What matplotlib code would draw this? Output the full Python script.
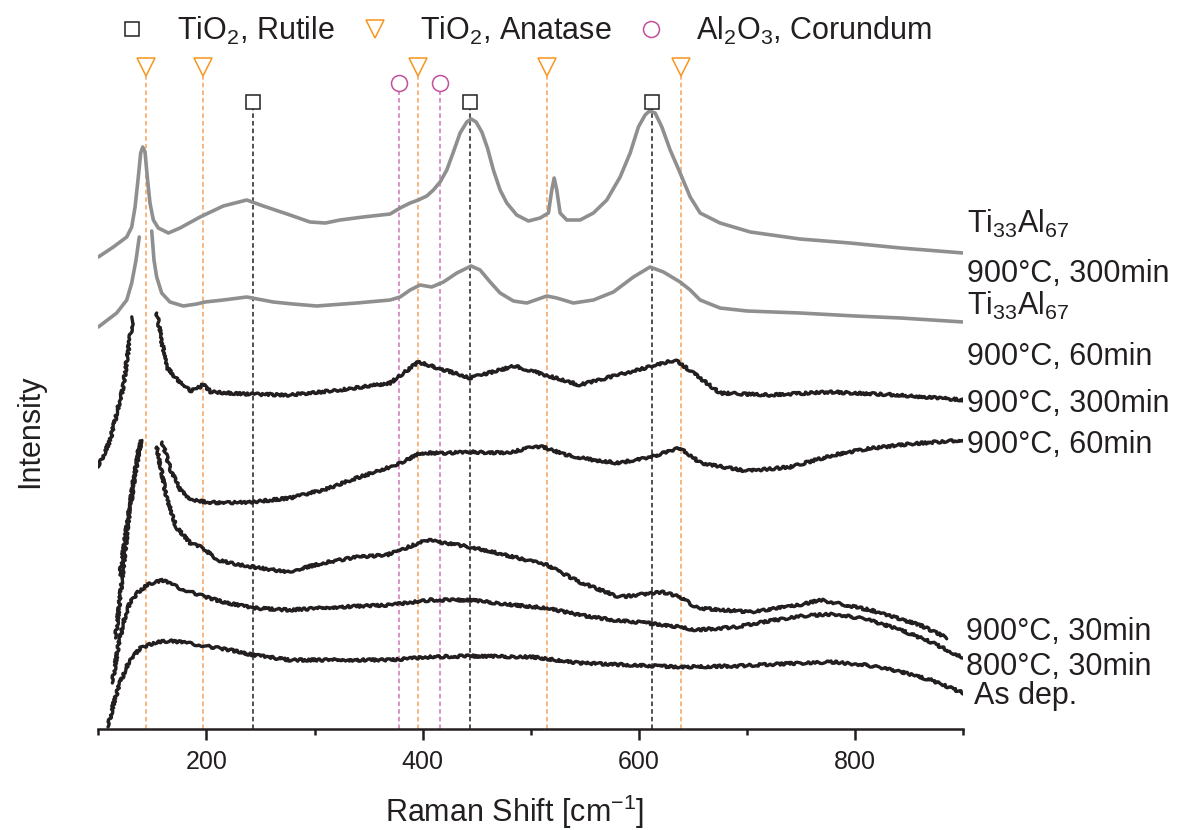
import numpy as np
import matplotlib
matplotlib.use('Agg')
import matplotlib.pyplot as plt
from matplotlib.lines import Line2D

plt.rcParams['font.family'] = ['Liberation Sans', 'DejaVu Sans']
plt.rcParams['mathtext.fontset'] = 'custom'
plt.rcParams['mathtext.rm'] = 'Liberation Sans'
plt.rcParams['mathtext.it'] = 'Liberation Sans:italic'
plt.rcParams['mathtext.bf'] = 'Liberation Sans:bold'

TXT = '#231f20'

# ---------------- data (Raman shift in cm-1, stacked intensity in a.u.) -------------
nan = np.nan
asdep_x = [109, 114, 120, 129, 139, 154, 169, 194, 222, 243, 277, 323, 370, 407, 444, 502,
           545, 592, 638, 690, 750, 780, 810, 840, 870, 900]
asdep_y = [2, 25, 46, 69, 81, 87, 88, 84, 79, 74, 69, 69, 69, 72, 73, 72,
           66, 64, 62, 63, 66, 67, 64, 58, 49, 36]

a800_30_x = [113, 118, 123, 129, 137, 145, 159, 175, 194, 215, 243, 277, 323, 370, 407, 444,
             484, 515, 545, 576, 607, 638, 653, 690, 720, 750, 780, 810, 840, 870, 900]
a800_30_y = [46, 80, 106, 126, 137, 144, 149, 141, 134, 127, 121, 119, 122, 124, 129, 129,
             124, 121, 114, 109, 106, 102, 99, 102, 108, 113, 115, 110, 100, 87, 71]

a900_30_x = [116, 122, 128, 134, 139.5, nan,
             154, 163, 172, 185, 197, 210, 222, 243, 275, 308, 339, 367, 404, 444, 469, 515,
             545, 582, 622, 638, 654, 703, 749, 768, 814, 860, 885]
a900_30_y = [91, 150, 210, 255, 288, nan,
             282, 232, 202, 186, 181, 169, 166, 162, 157, 166, 172, 174, 189, 182, 176, 164,
             147, 132, 137, 132, 121, 117, 124, 129, 119, 104, 91]

a900_60_x = [120, 126, 132, 137.5, 141.4, nan,
             159, 167, 176, 185, 200, 215, 243, 277, 308, 339, 367, 379, 398, 423, 444, 478,
             502, 511, 533, 558, 580, 608, 626, 638, 657, 700, 740, 780, 810, 850, 900]
a900_60_y = [154, 200, 245, 280, 288, nan,
             287, 259, 239, 229, 227, 226, 227, 231, 239, 251, 261, 266, 276, 276, 277, 276,
             282, 282, 274, 269, 266, 271, 277, 281, 266, 258, 262, 274, 280, 285, 289]

a900_300_x = [100, 111, 123, 132, nan,
              154, 163, 176, 185, 194, 197, 204, 236, 277, 323, 370, 396, 444, 485, 545,
              634, 675, 720, 777, 840, 900]
a900_300_y = [262, 289, 342, 412, nan,
              416, 362, 346, 338, 342, 345, 337, 335, 334, 339, 346, 367, 351, 363, 344,
              369, 336, 334, 337, 334, 329]

ti_60_x = [100, 117, 126.3, 130.9, 134.9, 137.9, nan,
           149.4, 151.5, 154, 158.6, 166.3, 178.6, 191, 198.7, 215.6, 237.3, 261.9, 280, 302,
           339, 369.9, 379.1, 388.4, 397.6, 408.4, 419.2, 431.6, 444.8, 453.1, 462.4, 471.6,
           483.9, 496.3, 507, 514.8, 524, 539.4, 557.9, 576.4, 594.9, 610.3, 622.7, 638.1,
           647.4, 656.6, 675, 700, 749, 800, 842, 900]
ti_60_y = [402, 416, 429, 446, 469, 492, nan,
           498, 469, 452, 436, 427, 423, 425, 427, 429, 432, 427, 425, 423,
           426, 429, 432, 439, 444, 442, 447, 456, 463, 459, 447, 436,
           428, 426, 430, 433, 431, 426, 429, 437, 452, 462, 457, 447,
           439, 429, 421, 418, 416, 413, 411, 407]

ti_300_x = [100, 113.9, 126.3, 130.9, 134, 137, 139.2, 141.1, 143.2, 145.3, 147.8, 150.9,
            155.5, 164.8, 175.6, 194.1, 215.6, 237.3, 252.6, 277.3, 295.8, 310, 323.6, 345,
            369.9, 379.1, 388.4, 396, 403.8, 409.9, 416.1, 422.3, 428.4, 434.6, 440.8, 444.8,
            449.4, 454.7, 459.9, 465.4, 471.6, 477.8, 487, 497.8, 508.6, 516.3, 519.4, 521.6,
            524, 527.1, 533.3, 545.6, 557.9, 570.3, 582.6, 591.9, 599.5, 605.7, 609.7, 615,
            621.2, 628.9, 638.1, 647.4, 656.6, 675, 703, 749, 795, 842, 900]
ti_300_y = [472, 482, 492, 502, 522, 552, 576, 582, 577, 552, 526, 509,
            501, 496, 501, 512, 523, 529, 523, 514, 507, 506, 509, 512,
            515, 521, 526, 529, 533, 539, 547, 559, 577, 596, 607, 610,
            607, 597, 581, 559, 539, 526, 514, 508, 511, 516, 539, 551,
            539, 516, 509, 509, 516, 529, 552, 576, 602, 614, 618, 616,
            602, 579, 556, 532, 516, 506, 497, 490, 486, 481, 476]

rutile_pos = [243, 444, 612]
anatase_pos = [144, 197, 396, 515, 639]
corundum_pos = [378, 416]

series_labels = ['Ti$_\\mathregular{33}$Al$_\\mathregular{67}$', '900°C, 300min',
                 'Ti$_\\mathregular{33}$Al$_\\mathregular{67}$', '900°C, 60min',
                 '900°C, 300min', '900°C, 60min',
                 '900°C, 30min', '800°C, 30min', 'As dep.']
legend_labels = ['TiO$_\\mathregular{2}$, Rutile', 'TiO$_\\mathregular{2}$, Anatase',
                 'Al$_\\mathregular{2}$O$_\\mathregular{3}$, Corundum']

xticks_major = [200, 400, 600, 800]
xticks_minor = [100, 300, 500, 700, 900]

# ---------------- figure ----------------
W, H = 1191, 830
fig = plt.figure(figsize=(W / 100, H / 100), dpi=100)
ax = fig.add_axes([98.3 / W, 101 / H, (963.3 - 98.3) / W, 729 / H])
ax.set_xlim(100, 900)
ax.set_ylim(0, 729)

BLACK = '#231f20'
GREY = '#8f8f8f'
ORANGE = '#f4a25c'
ORANGE_M = '#f7941d'
MAGENTA = '#cf74b8'
MAGENTA_M = '#c2509c'

# reference lines
dash = dict(lw=1.1, dashes=(3.0, 2.0))
for p in anatase_pos:
    ax.plot([p, p], [0, 653], color=ORANGE, zorder=1, **dash)
for p in corundum_pos:
    ax.plot([p, p], [0, 637], color=MAGENTA, zorder=1, **dash)
for p in rutile_pos:
    ax.plot([p, p], [0, 620], color=BLACK, zorder=1, **dash)

ax.plot(anatase_pos, [662] * len(anatase_pos), 'v', ms=13.5, mfc='none', mec=ORANGE_M, mew=1.1,
        clip_on=False, zorder=3)
ax.plot(corundum_pos, [646] * len(corundum_pos), 'o', ms=11.5, mfc='none', mec=MAGENTA_M, mew=1.1,
        clip_on=False, zorder=3)
ax.plot(rutile_pos, [627] * len(rutile_pos), 's', ms=10, mfc='none', mec=BLACK, mew=1.1,
        clip_on=False, zorder=3)

# spectra
for xs, ys in [(ti_300_x, ti_300_y), (ti_60_x, ti_60_y)]:
    ax.plot(xs, ys, color=GREY, lw=2.6, solid_joinstyle='round', solid_capstyle='round', zorder=2)

for xs, ys in [(a900_300_x, a900_300_y), (a900_60_x, a900_60_y), (a900_30_x, a900_30_y),
               (a800_30_x, a800_30_y), (asdep_x, asdep_y)]:
    ln, = ax.plot(xs, ys, color=BLACK, lw=2.4, solid_joinstyle='round', solid_capstyle='round',
                  zorder=2)
    ln.set_sketch_params(scale=1.2, length=8, randomness=6)

# axes style
for s in ['left', 'right', 'top']:
    ax.spines[s].set_visible(False)
ax.spines['bottom'].set_linewidth(1.8)
ax.spines['bottom'].set_color(BLACK)
ax.set_yticks([])
ax.set_xticks(xticks_major)
ax.set_xticks(xticks_minor, minor=True)
ax.tick_params(axis='x', which='major', direction='out', length=8, width=1.8, color=BLACK,
               labelsize=18, labelcolor=TXT, pad=7)
ax.tick_params(axis='x', which='minor', direction='out', length=4.3, width=1.8, color=BLACK)
ax.patch.set_visible(False)

fig.text(515 / W, 1 - 812 / H, 'Raman Shift [cm$^\\mathregular{-1}$]', fontsize=22, color=TXT,
         ha='center', va='center')
fig.text(30 / W, 1 - 431 / H, 'Intensity', fontsize=22, color=TXT, rotation=90,
         ha='center', va='center')

# right-hand labels
label_x = [967, 967, 967, 967, 967, 967, 966, 966, 974]
label_base = [233, 282, 315, 365, 412, 453, 640, 675, 704]
for t, lx, by in zip(series_labels, label_x, label_base):
    fig.text(lx / W, 1 - by / H, t, fontsize=22, color=TXT, ha='left', va='baseline')

# legend
handles = [Line2D([], [], ls='none', marker='s', ms=10, mfc='none', mec=BLACK, mew=1.1),
           Line2D([], [], ls='none', marker='v', ms=13.5, mfc='none', mec=ORANGE_M, mew=1.1),
           Line2D([], [], ls='none', marker='o', ms=11.5, mfc='none', mec=MAGENTA_M, mew=1.1)]
leg = fig.legend(handles, legend_labels, ncol=3, frameon=False, fontsize=22,
                 loc='center left', bbox_to_anchor=(117 / W, 1 - 31 / H),
                 borderpad=0, borderaxespad=0, handlelength=1.0, handletextpad=0.97,
                 columnspacing=0.8, labelcolor=TXT)

fig.savefig('out.png', dpi=100)
